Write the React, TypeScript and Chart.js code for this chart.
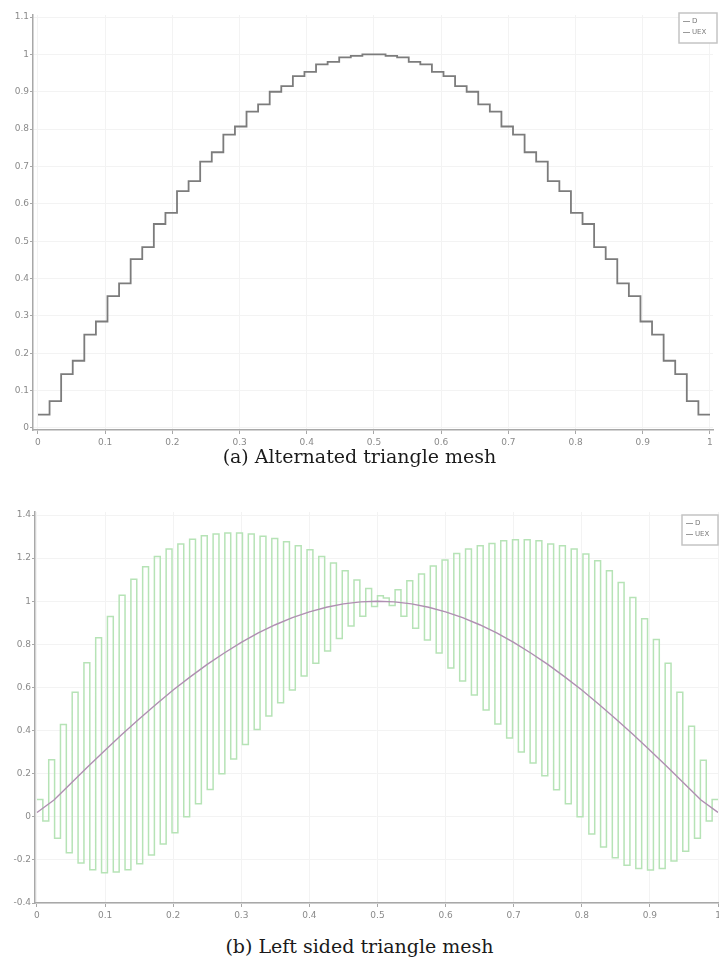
import { useEffect, useRef } from "react";
import { Chart, registerables } from "chart.js";

Chart.register(...registerables);

// Shared axis ticks
const xTicks = [0, 0.1, 0.2, 0.3, 0.4, 0.5, 0.6, 0.7, 0.8, 0.9, 1];
const alternatedYTicks = [0, 0.1, 0.2, 0.3, 0.4, 0.5, 0.6, 0.7, 0.8, 0.9, 1, 1.1];
const leftSidedYTicks = [-0.4, -0.2, 0, 0.2, 0.4, 0.6, 0.8, 1, 1.2, 1.4];

const seriesLabels = ["D", "UEX"];

// (a) piecewise-constant solution on the alternated mesh, one value per triangle along the cut
const alternatedD = [
  0.036, 0.072, 0.144, 0.18, 0.25, 0.285, 0.353, 0.387, 0.452, 0.484,
  0.546, 0.576, 0.634, 0.661, 0.713, 0.738, 0.785, 0.807, 0.847, 0.866,
  0.9, 0.915, 0.942, 0.953, 0.973, 0.98, 0.992, 0.996, 1.0, 1.0,
  0.996, 0.992, 0.98, 0.973, 0.953, 0.942, 0.915, 0.9, 0.866, 0.847,
  0.807, 0.785, 0.738, 0.713, 0.661, 0.634, 0.576, 0.546, 0.484, 0.452,
  0.387, 0.353, 0.285, 0.25, 0.18, 0.144, 0.072, 0.036,
];

// (b) left sided mesh: first and second triangle of every cell along the cut
const leftSidedFirst = [
  0.08, 0.265, 0.428, 0.578, 0.715, 0.831, 0.929, 1.028, 1.102, 1.16,
  1.208, 1.242, 1.265, 1.288, 1.304, 1.312, 1.316, 1.316, 1.312, 1.301,
  1.291, 1.276, 1.257, 1.239, 1.208, 1.177, 1.141, 1.099, 1.059, 1.025,
  0.98, 0.93, 0.875, 0.82, 0.76, 0.69, 0.63, 0.565, 0.495, 0.43,
  0.365, 0.3, 0.25, 0.19, 0.125, 0.06, 0.0, -0.08, -0.14, -0.19,
  -0.225, -0.24, -0.247, -0.24, -0.205, -0.16, -0.1, -0.02,
];
const leftSidedSecond = [
  -0.02, -0.1, -0.167, -0.214, -0.246, -0.26, -0.256, -0.246, -0.218, -0.177,
  -0.126, -0.074, 0.0, 0.06, 0.126, 0.2, 0.268, 0.335, 0.405, 0.467,
  0.529, 0.588, 0.653, 0.712, 0.769, 0.827, 0.885, 0.93, 0.975, 1.015,
  1.053, 1.095, 1.126, 1.164, 1.191, 1.222, 1.242, 1.257, 1.268, 1.281,
  1.285, 1.285, 1.281, 1.265, 1.257, 1.242, 1.219, 1.188, 1.141, 1.087,
  1.017, 0.919, 0.823, 0.712, 0.578, 0.42, 0.262, 0.08,
];

// Exact solution samples
const uexX = [
  0, 0.025, 0.05, 0.075, 0.1, 0.125, 0.15, 0.175, 0.2, 0.225,
  0.25, 0.275, 0.3, 0.325, 0.35, 0.375, 0.4, 0.425, 0.45, 0.475,
  0.5, 0.525, 0.55, 0.575, 0.6, 0.625, 0.65, 0.675, 0.7, 0.725,
  0.75, 0.775, 0.8, 0.825, 0.85, 0.875, 0.9, 0.925, 0.95, 0.975, 1,
];
const uexY = [
  0.02, 0.078, 0.156, 0.233, 0.309, 0.383, 0.454, 0.522, 0.588, 0.649,
  0.707, 0.76, 0.809, 0.853, 0.891, 0.924, 0.951, 0.972, 0.988, 0.997,
  1.0, 0.997, 0.988, 0.972, 0.951, 0.924, 0.891, 0.853, 0.809, 0.76,
  0.707, 0.649, 0.588, 0.522, 0.454, 0.383, 0.309, 0.233, 0.156, 0.078, 0.02,
];

// Piecewise-constant values on equal sub-intervals of [0, 1]
function stepPoints(values: number[]) {
  const n = values.length;
  const pts = values.map((v, i) => ({ x: i / n, y: v }));
  pts.push({ x: 1, y: values[n - 1] });
  return pts;
}

function interleave(a: number[], b: number[]) {
  const out: number[] = [];
  a.forEach((v, i) => {
    out.push(v, b[i]);
  });
  return out;
}

const fmt = (v: number | string) => String(Number(Number(v).toFixed(2)));

const boxedLegend = {
  id: "boxedLegend",
  afterDraw(chart: any, _args: any, opts: any) {
    const { ctx, chartArea } = chart;
    const x = chartArea.right + opts.dx;
    const y = chartArea.top + opts.dy;
    ctx.save();
    ctx.fillStyle = "#ffffff";
    ctx.fillRect(x, y, opts.w, opts.h);
    ctx.strokeStyle = "#c4c4c4";
    ctx.lineWidth = 1.5;
    ctx.strokeRect(x, y, opts.w, opts.h);
    ctx.font = "7px 'DejaVu Sans'";
    ctx.textBaseline = "middle";
    chart.data.datasets.forEach((ds: any, i: number) => {
      const ly = y + 8.5 + i * 11;
      ctx.strokeStyle = "#9a9a9a";
      ctx.lineWidth = 1;
      ctx.beginPath();
      ctx.moveTo(x + 4, ly);
      ctx.lineTo(x + 11, ly);
      ctx.stroke();
      ctx.fillStyle = "#7a7a7a";
      ctx.fillText(ds.label, x + 13, ly);
    });
    ctx.restore();
  },
};

function axis(min: number, max: number, ticks: number[], size: number, isX: boolean) {
  return {
    type: "linear" as const,
    min,
    max,
    afterBuildTicks: (s: any) => {
      s.ticks = ticks.map((value) => ({ value }));
    },
    afterFit: (s: any) => {
      if (isX) s.height = size;
      else s.width = size;
    },
    grid: {
      color: "#f3f3f3",
      tickColor: "#a8a8a8",
      tickLength: isX ? 4 : 3,
      lineWidth: 1,
    },
    border: { color: "#a8a8a8", width: 1.5 },
    ticks: {
      color: "#8a8a8a",
      font: { size: 9, family: "'DejaVu Sans'" },
      padding: isX ? 3 : 1,
      maxRotation: 0,
      autoSkip: false,
      callback: (v: any) => fmt(v),
    },
  };
}

function AlternatedChart() {
  const ref = useRef<HTMLCanvasElement>(null);
  useEffect(() => {
    const chart = new Chart(ref.current!, {
      type: "line",
      data: {
        datasets: [
          {
            label: seriesLabels[0],
            data: stepPoints(alternatedD),
            stepped: "before",
            borderColor: "#7c7c7c",
            borderWidth: 1.8,
            pointRadius: 0,
            fill: false,
          },
          {
            label: seriesLabels[1],
            data: [],
            borderColor: "#9a9a9a",
            borderWidth: 1,
            pointRadius: 0,
          },
        ],
      },
      options: {
        animation: false,
        responsive: false,
        devicePixelRatio: 1,
        layout: { padding: { top: 15, right: 6, left: 0, bottom: 0 } },
        scales: {
          x: axis(-0.0074, 1.0045, xTicks, 22, true),
          y: axis(-0.0054, 1.1054, alternatedYTicks, 33, false),
        },
        plugins: {
          legend: { display: false },
          tooltip: { enabled: false },
          boxedLegend: { dx: -34, dy: -2, w: 38, h: 30 },
        } as any,
      },
      plugins: [boxedLegend],
    });
    return () => chart.destroy();
  }, []);
  return <canvas ref={ref} width={719} height={452} style={{ position: "absolute", left: 0, top: 0 }} />;
}

function LeftSidedChart() {
  const ref = useRef<HTMLCanvasElement>(null);
  useEffect(() => {
    const chart = new Chart(ref.current!, {
      type: "line",
      data: {
        datasets: [
          {
            label: seriesLabels[0],
            data: stepPoints(interleave(leftSidedFirst, leftSidedSecond)),
            stepped: "before",
            borderColor: "#b6e3b6",
            borderWidth: 1.5,
            pointRadius: 0,
            fill: false,
            order: 1,
          },
          {
            label: seriesLabels[1],
            data: uexX.map((x, i) => ({ x, y: uexY[i] })),
            borderColor: "#b08fb2",
            borderWidth: 1.4,
            pointRadius: 0,
            fill: false,
            order: 0,
          },
        ],
      },
      options: {
        animation: false,
        responsive: false,
        devicePixelRatio: 1,
        layout: { padding: { top: 22, right: 22, left: 0, bottom: 0 } },
        scales: {
          x: axis(-0.0029, 1.0, xTicks, 17, true),
          y: axis(-0.4, 1.414, leftSidedYTicks, 35, false),
        },
        plugins: {
          legend: { display: false },
          tooltip: { enabled: false },
          boxedLegend: { dx: -36, dy: 3, w: 36, h: 30 },
        } as any,
      },
      plugins: [boxedLegend],
    });
    return () => chart.destroy();
  }, []);
  return <canvas ref={ref} width={740} height={430} style={{ position: "absolute", left: 0, top: 490 }} />;
}

const captionStyle = {
  position: "absolute" as const,
  left: 0,
  width: 719,
  textAlign: "center" as const,
  fontFamily: "'DejaVu Serif', serif",
  fontSize: 19,
  lineHeight: "22px",
  color: "#1a1a1a",
};

export default function App() {
  return (
    <div
      style={{
        position: "fixed",
        left: 0,
        top: 0,
        width: 719,
        height: 969,
        overflow: "hidden",
        background: "#ffffff",
      }}
    >
      <AlternatedChart />
      <div style={{ ...captionStyle, top: 445 }}>(a) Alternated triangle mesh</div>
      <LeftSidedChart />
      <div style={{ ...captionStyle, top: 935 }}>(b) Left sided triangle mesh</div>
    </div>
  );
}
